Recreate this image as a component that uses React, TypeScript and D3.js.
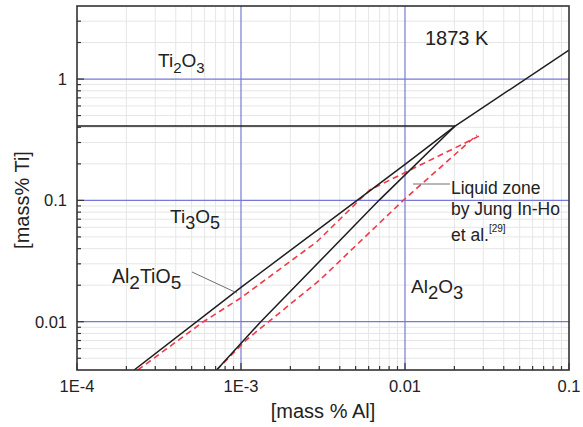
import React from "react";
import * as d3 from "d3";

// Axis ticks and labels
const xMajorTicks = [1e-4, 1e-3, 1e-2, 1e-1];
const xTickLabels = ["1E-4", "1E-3", "0.01", "0.1"];
const yMajorTicks = [0.01, 0.1, 1];
const yTickLabels = ["0.01", "0.1", "1"];

// Phase boundaries at 1873 K: [mass % Al] vs [mass % Ti]
const ti2o3Al = [1e-4, 0.0202];
const ti2o3Ti = [0.41, 0.41];
const upperAl = [0.0202, 0.1];
const upperTi = [0.41, 1.73];
const al2tio5Al = [2.23e-4, 1e-3, 5.2e-3, 0.0101, 0.0202];
const al2tio5Ti = [0.004, 0.0192, 0.102, 0.2, 0.41];
const al2o3Al = [7.1e-4, 1.32e-3, 7.04e-3, 0.0202];
const al2o3Ti = [0.004, 0.01, 0.102, 0.41];

// Liquid zone by Jung In-Ho et al. (dashed)
const jungUpperAl = [2.35e-4, 5.9e-4, 9.9e-4, 2.9e-3, 6.1e-3, 0.0283];
const jungUpperTi = [0.004, 0.01, 0.0156, 0.0456, 0.122, 0.339];
const jungLowerAl = [7.1e-4, 1.08e-3, 3.03e-3, 9.8e-3, 0.0274];
const jungLowerTi = [0.004, 0.0071, 0.0221, 0.1006, 0.3455];

const W = 583;
const H = 427;
const M = { left: 77, right: 569, top: 6, bottom: 370 };
const FONT = "'Liberation Sans', Arial, Helvetica, sans-serif";

const x = d3.scaleLog().domain([1e-4, 0.1]).range([M.left, M.right]);
const y = d3.scaleLog().domain([0.004, 4]).range([M.bottom, M.top]);

function minorValues(domain: [number, number]) {
  const out: number[] = [];
  for (let e = -5; e <= 1; e++) {
    for (let m = 2; m <= 9; m++) {
      const v = m * Math.pow(10, e);
      if (v > domain[0] * 1.0001 && v < domain[1] * 0.9999) out.push(v);
    }
  }
  return out;
}

const xMinor = minorValues([1e-4, 0.1]);
const yMinor = minorValues([0.004, 4]);

type Pt = [number, number];
const zip = (a: number[], b: number[]): Pt[] => a.map((v, i) => [v, b[i]]);
const line = d3
  .line<Pt>()
  .x((d) => x(d[0]))
  .y((d) => y(d[1]));

export default function App() {
  const blackLines = [
    zip(ti2o3Al, ti2o3Ti),
    zip(upperAl, upperTi),
    zip(al2tio5Al, al2tio5Ti),
    zip(al2o3Al, al2o3Ti),
  ];
  const redLines = [zip(jungUpperAl, jungUpperTi), zip(jungLowerAl, jungLowerTi)];

  return (
    <svg
      width={W}
      height={H}
      style={{ position: "absolute", left: 0, top: 0, background: "#fff" }}
      fontFamily={FONT}
    >
      <defs>
        <clipPath id="plot-clip">
          <rect x={M.left} y={M.top} width={M.right - M.left} height={M.bottom - M.top} />
        </clipPath>
      </defs>
      <rect x={0} y={0} width={W} height={H} fill="#fff" />

      {/* minor grid */}
      <g stroke="#e6e6e6" strokeWidth={1}>
        {xMinor.map((v) => (
          <line key={"gx" + v} x1={x(v)} x2={x(v)} y1={M.top} y2={M.bottom} />
        ))}
        {yMinor.map((v) => (
          <line key={"gy" + v} x1={M.left} x2={M.right} y1={y(v)} y2={y(v)} />
        ))}
      </g>

      {/* major grid */}
      <g stroke="#7878d8" strokeWidth={1.2}>
        {xMajorTicks.slice(1, -1).map((v) => (
          <line key={"Gx" + v} x1={x(v)} x2={x(v)} y1={M.top} y2={M.bottom} />
        ))}
        {yMajorTicks.map((v) => (
          <line key={"Gy" + v} x1={M.left} x2={M.right} y1={y(v)} y2={y(v)} />
        ))}
      </g>

      {/* boundaries */}
      <g clipPath="url(#plot-clip)" fill="none">
        {redLines.map((pts, i) => (
          <path
            key={"r" + i}
            d={line(pts) || ""}
            stroke="#f03a4a"
            strokeWidth={1.6}
            strokeDasharray="6,4"
          />
        ))}
        {blackLines.map((pts, i) => (
          <path key={"b" + i} d={line(pts) || ""} stroke="#1e1e1e" strokeWidth={1.5} />
        ))}
      </g>

      {/* leader lines */}
      <g stroke="#707070" strokeWidth={1}>
        <line x1={192} y1={272} x2={237} y2={293} />
        <line x1={413} y1={184} x2={450} y2={184} />
      </g>

      {/* ticks */}
      <g stroke="#333" strokeWidth={1.2}>
        {xMinor.map((v) => (
          <line key={"tx" + v} x1={x(v)} x2={x(v)} y1={M.bottom} y2={M.bottom - 4} />
        ))}
        {xMajorTicks.map((v) => (
          <line key={"TX" + v} x1={x(v)} x2={x(v)} y1={M.bottom} y2={M.bottom - 7} />
        ))}
        {yMinor.map((v) => (
          <line key={"ty" + v} x1={M.left} x2={M.left + 4} y1={y(v)} y2={y(v)} />
        ))}
        {yMajorTicks.map((v) => (
          <line key={"TY" + v} x1={M.left} x2={M.left + 7} y1={y(v)} y2={y(v)} />
        ))}
      </g>

      {/* frame */}
      <rect
        x={M.left}
        y={M.top}
        width={M.right - M.left}
        height={M.bottom - M.top}
        fill="none"
        stroke="#333"
        strokeWidth={1.6}
      />

      {/* tick labels */}
      <g fontSize={16.5} fill="#222">
        {xMajorTicks.map((v, i) => (
          <text key={"lx" + v} x={x(v)} y={392} textAnchor="middle">
            {xTickLabels[i]}
          </text>
        ))}
        {yMajorTicks.map((v, i) => (
          <text key={"ly" + v} x={67} y={y(v) + 6} textAnchor="end">
            {yTickLabels[i]}
          </text>
        ))}
      </g>

      {/* axis titles */}
      <text x={(M.left + M.right) / 2} y={418} textAnchor="middle" fontSize={20} fill="#222">
        [mass % Al]
      </text>
      <text
        transform={`translate(29, 200) rotate(-90)`}
        textAnchor="middle"
        fontSize={20}
        fill="#222"
      >
        [mass% Ti]
      </text>

      {/* phase labels */}
      <g fill="#222">
        <text x={425} y={45} fontSize={20}>
          1873 K
        </text>
        <text x={158} y={67} fontSize={19}>
          Ti
          <tspan fontSize={15} dy={6}>2</tspan>
          <tspan dy={-6}>O</tspan>
          <tspan fontSize={15} dy={6}>3</tspan>
        </text>
        <text x={170} y={223} fontSize={19}>
          Ti
          <tspan fontSize={18} dy={6}>3</tspan>
          <tspan dy={-6}>O</tspan>
          <tspan fontSize={18} dy={6}>5</tspan>
        </text>
        <text x={112} y={283} fontSize={19.5}>
          Al
          <tspan fontSize={19} dy={6}>2</tspan>
          <tspan dy={-6}>TiO</tspan>
          <tspan fontSize={19} dy={6}>5</tspan>
        </text>
        <text x={411} y={293} fontSize={19}>
          Al
          <tspan fontSize={18.5} dy={6}>2</tspan>
          <tspan dy={-6}>O</tspan>
          <tspan fontSize={18.5} dy={6}>3</tspan>
        </text>
        <g fontSize={17.5}>
          <text x={451} y={193.5}>Liquid zone</text>
          <text x={451} y={215}>by Jung In-Ho</text>
          <text x={451} y={240.5}>
            et al.
            <tspan fontSize={10} dy={-9}>[29]</tspan>
          </text>
        </g>
      </g>
    </svg>
  );
}
